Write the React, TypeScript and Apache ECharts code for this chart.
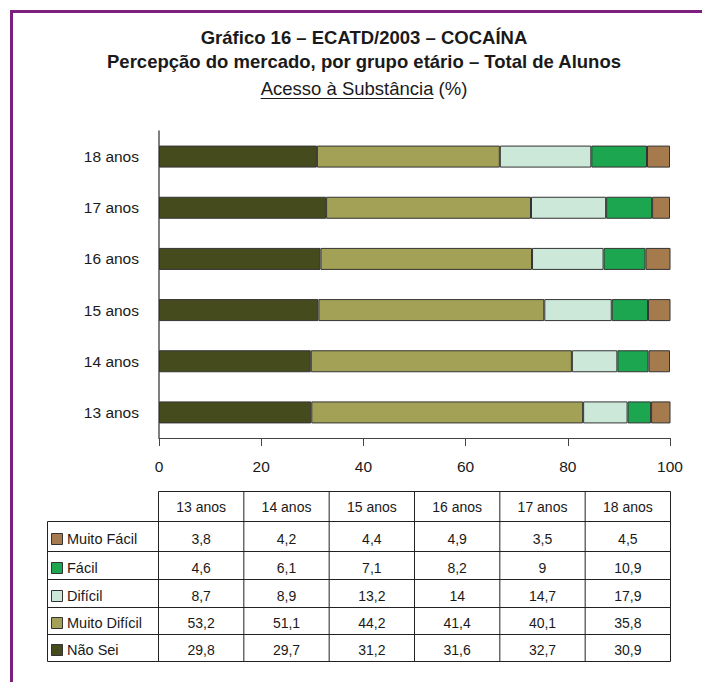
import React, { useEffect, useRef } from 'react';
import * as echarts from 'echarts';

// ---- Data ----
const categories = ['13 anos', '14 anos', '15 anos', '16 anos', '17 anos', '18 anos'];
const naoSei = [29.8, 29.7, 31.2, 31.6, 32.7, 30.9];
const muitoDificil = [53.2, 51.1, 44.2, 41.4, 40.1, 35.8];
const dificil = [8.7, 8.9, 13.2, 14, 14.7, 17.9];
const facil = [4.6, 6.1, 7.1, 8.2, 9, 10.9];
const muitoFacil = [3.8, 4.2, 4.4, 4.9, 3.5, 4.5];
const xTicks = [0, 20, 40, 60, 80, 100];

const seriesDefs = [
  { name: 'Não Sei', data: naoSei, color: '#464b1e' },
  { name: 'Muito Difícil', data: muitoDificil, color: '#a3a156' },
  { name: 'Difícil', data: dificil, color: '#cce8d9' },
  { name: 'Fácil', data: facil, color: '#1ba64f' },
  { name: 'Muito Fácil', data: muitoFacil, color: '#a57b4e' },
];
// table rows top to bottom
const tableOrder = ['Muito Fácil', 'Fácil', 'Difícil', 'Muito Difícil', 'Não Sei'];

const FONT = '"Liberation Sans", Arial, Helvetica, sans-serif';

function measure(text: string, font: string): number {
  const c = document.createElement('canvas').getContext('2d');
  if (!c) return text.length * 8;
  c.font = font;
  return c.measureText(text).width;
}

export default function App() {
  const ref = useRef<HTMLDivElement>(null);
  useEffect(() => {
    if (!ref.current) return;
    const chart = echarts.init(ref.current, null, { renderer: 'svg' });

    const gridLeft = 159;
    const gridRight = 670;
    const gridTop = 131;
    const gridBottomY = 438;

    const graphic: any[] = [];
    // purple frame
    graphic.push({ type: 'rect', silent: true, shape: { x: 10, y: 10, width: 3, height: 672 }, style: { fill: '#7d1f7d' } });
    graphic.push({ type: 'rect', silent: true, shape: { x: 10, y: 10, width: 692, height: 3 }, style: { fill: '#7d1f7d' } });

    // titles
    const cx = 364;
    graphic.push({
      type: 'text', silent: true, x: cx, y: 37,
      style: { text: 'Gráfico 16 – ECATD/2003 – COCAÍNA', fontFamily: FONT, fontSize: 18.5, fontWeight: 'bold', fill: '#1a1a1a', align: 'center', verticalAlign: 'middle' },
    });
    graphic.push({
      type: 'text', silent: true, x: cx, y: 61,
      style: { text: 'Percepção do mercado, por grupo etário – Total de Alunos', fontFamily: FONT, fontSize: 18.5, fontWeight: 'bold', fill: '#1a1a1a', align: 'center', verticalAlign: 'middle' },
    });
    const t3a = 'Acesso à Substância';
    const t3b = ' (%)';
    const f3 = 18.5;
    const w3a = measure(t3a, `${f3}px ${FONT}`);
    const w3b = measure(t3b, `${f3}px ${FONT}`);
    const l3 = cx - (w3a + w3b) / 2;
    graphic.push({
      type: 'text', silent: true, x: l3, y: 88,
      style: { text: t3a, fontFamily: FONT, fontSize: f3, fill: '#1a1a1a', align: 'left', verticalAlign: 'middle' },
    });
    graphic.push({
      type: 'text', silent: true, x: l3 + w3a, y: 88,
      style: { text: t3b, fontFamily: FONT, fontSize: f3, fill: '#1a1a1a', align: 'left', verticalAlign: 'middle' },
    });
    graphic.push({
      type: 'line', silent: true,
      shape: { x1: l3, y1: 98.5, x2: l3 + w3a, y2: 98.5 },
      style: { stroke: '#1a1a1a', lineWidth: 1 },
    });

    // table
    const colW = (gridRight - gridLeft + 1) / categories.length;
    const colX = categories.map((_, i) => gridLeft - 0.5 + i * colW);
    const tableRight = gridLeft - 0.5 + categories.length * colW;
    const rowY = [491.5, 521.5, 551.5, 579.5, 607.5, 634.5, 661.5];
    const legendLeft = 47.5;
    const lineStyle = { stroke: '#222', lineWidth: 1 };
    // horizontal lines
    graphic.push({ type: 'line', silent: true, shape: { x1: colX[0], y1: rowY[0], x2: tableRight, y2: rowY[0] }, style: lineStyle });
    for (let r = 1; r < rowY.length; r++) {
      graphic.push({ type: 'line', silent: true, shape: { x1: legendLeft, y1: rowY[r], x2: tableRight, y2: rowY[r] }, style: lineStyle });
    }
    // vertical lines
    graphic.push({ type: 'line', silent: true, shape: { x1: legendLeft, y1: rowY[1], x2: legendLeft, y2: rowY[rowY.length - 1] }, style: lineStyle });
    for (let c = 0; c <= categories.length; c++) {
      const x = gridLeft - 0.5 + c * colW;
      graphic.push({ type: 'line', silent: true, shape: { x1: x, y1: rowY[0], x2: x, y2: rowY[rowY.length - 1] }, style: lineStyle });
    }
    // header
    categories.forEach((cat, i) => {
      graphic.push({
        type: 'text', silent: true, x: colX[i] + colW / 2, y: (rowY[0] + rowY[1]) / 2,
        style: { text: cat, fontFamily: FONT, fontSize: 14, fill: '#1a1a1a', align: 'center', verticalAlign: 'middle' },
      });
    });
    // rows
    tableOrder.forEach((name, r) => {
      const s = seriesDefs.find((d) => d.name === name)!;
      const yc = (rowY[r + 1] + rowY[r + 2]) / 2 + 2;
      graphic.push({
        type: 'rect', silent: true,
        shape: { x: 51.5, y: Math.round(yc - 6) + 0.5, width: 11, height: 11 },
        style: { fill: s.color, stroke: '#333', lineWidth: 1 },
      });
      graphic.push({
        type: 'text', silent: true, x: 67, y: yc,
        style: { text: name, fontFamily: FONT, fontSize: 14.5, fill: '#1a1a1a', align: 'left', verticalAlign: 'middle' },
      });
      s.data.forEach((v, i) => {
        graphic.push({
          type: 'text', silent: true, x: colX[i] + colW / 2, y: yc,
          style: { text: String(v).replace('.', ','), fontFamily: FONT, fontSize: 14, fill: '#1a1a1a', align: 'center', verticalAlign: 'middle' },
        });
      });
    });

    const option: any = {
      animation: false,
      backgroundColor: '#ffffff',
      grid: { left: gridLeft, right: 702 - gridRight, top: gridTop, bottom: 682 - gridBottomY, containLabel: false },
      xAxis: {
        type: 'value', min: xTicks[0], max: xTicks[xTicks.length - 1], interval: 20,
        axisLine: { show: true, lineStyle: { color: '#444', width: 1 } },
        axisTick: { show: true, length: 8, lineStyle: { color: '#444' } },
        splitLine: { show: false },
        axisLabel: { fontFamily: FONT, fontSize: 15.5, color: '#1a1a1a', margin: 20 },
      },
      yAxis: {
        type: 'category', data: categories,
        axisLine: { show: true, lineStyle: { color: '#555', width: 1.5 } },
        axisTick: { show: false },
        axisLabel: { fontFamily: FONT, fontSize: 15.5, color: '#1a1a1a', margin: 20 },
      },
      series: seriesDefs.map((s) => ({
        type: 'bar', name: s.name, stack: 'total', data: s.data, barWidth: 22,
        itemStyle: { color: s.color, borderColor: '#333', borderWidth: 1 },
      })),
      graphic,
    };
    chart.setOption(option);
    return () => chart.dispose();
  }, []);
  return <div ref={ref} style={{ position: 'absolute', left: 0, top: 0, width: 702, height: 682 }} />;
}
